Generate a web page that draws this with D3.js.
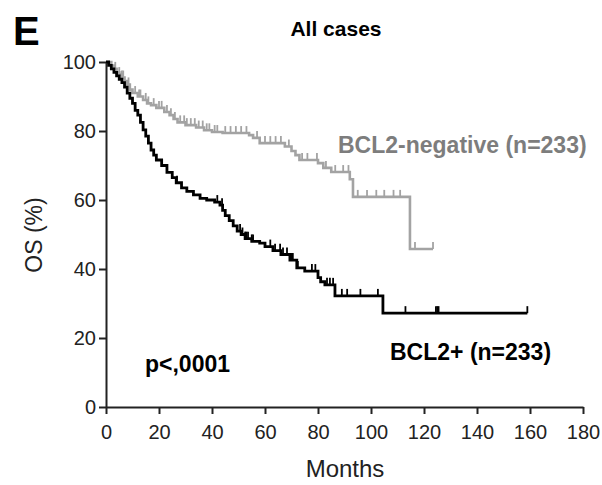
<!DOCTYPE html>
<meta charset="utf-8">
<style>
html, body { margin: 0; padding: 0; background: #fff; }
svg { font-family: "Liberation Sans", Arial, sans-serif; }
.axis path, .axis line { stroke: #222; stroke-width: 2; }
.axis text { font-size: 20px; fill: #222; }
</style>
<svg width="602" height="485"></svg>
<script src="https://cdn.jsdelivr.net/npm/d3@7"></script>
<script>
// BCL2-negative curve: month where the step starts, survival (%) after it
const negMonths = [0, 2, 3, 4, 5, 6, 7, 8, 9, 10, 12, 14, 15.5, 17, 19, 22, 24, 25.5, 27, 30, 34, 37, 40, 44, 54, 55.5, 58, 67.5, 70, 71.5, 73, 80, 82, 85, 92, 93.2, 114.7];
const negSurv = [100, 99, 98, 97, 96.5, 95.5, 94.5, 93.5, 92, 91, 90, 89, 88, 87.5, 86.7, 85.5, 84.6, 83.5, 82.5, 81.7, 81, 80.2, 79.7, 79.4, 78.8, 78, 76.5, 75.5, 74.2, 73, 71.6, 70.7, 69.3, 68.1, 66, 60.9, 45.8];
const negEnd = 123.4;
const negCensored = [3.5, 5, 6, 6.5, 8.5, 11, 12.5, 13, 15, 16, 18, 20, 21, 23, 24.5, 26, 28, 29.5, 30.5, 32, 33.5, 35, 36.5, 38, 39, 41, 42, 45, 47, 49, 51, 53, 57, 60, 62, 64, 66, 69, 74, 76, 79.6, 83, 86.5, 89.5, 91.5, 95, 98.5, 102, 105, 108.5, 111, 116.6, 123.4];

// BCL2+ curve
const posMonths = [0, 1, 2, 3, 4, 5, 6, 7, 8, 9, 10, 11, 12, 13, 14, 15, 16, 17, 18, 19, 21, 23, 25, 26.5, 28.5, 30.5, 33, 35.5, 38, 41, 43, 44, 45, 46.5, 48, 49.5, 51, 52.5, 55, 58, 60, 63, 66, 69.4, 72, 75, 80, 81, 82.6, 86.4, 104.5];
const posSurv = [100, 99, 98, 97, 96, 95, 94, 92.7, 91, 89.5, 88, 86, 84.6, 82.5, 80.3, 78.5, 76.5, 74.5, 73, 71.6, 70, 68, 66.5, 65, 63.5, 62.5, 61.5, 60.5, 60, 59.4, 58.5, 57, 55.5, 54, 52.5, 51, 50, 48.8, 48, 47.5, 46.5, 45.3, 44.2, 42.6, 40.3, 39.4, 37.5, 36.3, 35.4, 32.2, 27.2];
const posEnd = 159;
const posCensored = [26.8, 42, 43.8, 50.6, 51.5, 52.5, 53, 53.6, 55, 55.5, 62, 63.8, 65.7, 66.8, 68.3, 70, 70.5, 72.4, 77.7, 79, 83.4, 84.5, 85.7, 89, 91, 96, 102.6, 113, 124.5, 125, 125.5, 159];

const xTicks = [0, 20, 40, 60, 80, 100, 120, 140, 160, 180];
const yTicks = [0, 20, 40, 60, 80, 100];

const svg = d3.select('svg');
const x = d3.scaleLinear().domain([0, 180]).range([106, 583]);
const y = d3.scaleLinear().domain([0, 100]).range([407, 62]);

svg.append('g')
  .attr('class', 'axis')
  .attr('transform', `translate(0,${y(0)})`)
  .call(d3.axisBottom(x).tickValues(xTicks).tickSize(7).tickSizeOuter(0).tickPadding(8))
  .call(g => g.selectAll('text').attr('dy', '0.85em'));

svg.append('g')
  .attr('class', 'axis')
  .attr('transform', `translate(${x(0)},0)`)
  .call(d3.axisLeft(y).tickValues(yTicks).tickSize(7).tickSizeOuter(0).tickPadding(3));

function drawCurve(months, surv, end, censored, color, width) {
  const pts = months.map((m, i) => [m, surv[i]]);
  pts.push([end, surv[surv.length - 1]]);
  const line = d3.line()
    .x(d => x(d[0]))
    .y(d => y(d[1]))
    .curve(d3.curveStepAfter);
  svg.append('path')
    .attr('d', line(pts))
    .attr('fill', 'none')
    .attr('stroke', color)
    .attr('stroke-width', width);
  const survAt = t => {
    let s = surv[0];
    for (let i = 0; i < months.length; i++) if (months[i] <= t) s = surv[i];
    return s;
  };
  svg.append('g')
    .selectAll('line')
    .data(censored)
    .enter()
    .append('line')
    .attr('x1', d => x(d))
    .attr('x2', d => x(d))
    .attr('y1', d => y(survAt(d)))
    .attr('y2', d => y(survAt(d)) - 7)
    .attr('stroke', color)
    .attr('stroke-width', 1.8);
}

drawCurve(negMonths, negSurv, negEnd, negCensored, '#a3a3a3', 2.6);
drawCurve(posMonths, posSurv, posEnd, posCensored, '#000', 2.8);

svg.append('text')
  .attr('x', 13).attr('y', 45)
  .attr('font-size', 40).attr('font-weight', 'bold')
  .text('E');

svg.append('text')
  .attr('x', 336).attr('y', 36)
  .attr('text-anchor', 'middle')
  .attr('font-size', 21).attr('font-weight', 'bold')
  .text('All cases');

svg.append('text')
  .attr('x', 338).attr('y', 153)
  .attr('font-size', 23).attr('font-weight', 'bold')
  .attr('fill', '#7d7d7d')
  .text('BCL2-negative (n=233)');

svg.append('text')
  .attr('x', 390).attr('y', 360)
  .attr('font-size', 23).attr('font-weight', 'bold')
  .text('BCL2+ (n=233)');

svg.append('text')
  .attr('x', 145).attr('y', 372)
  .attr('font-size', 23).attr('font-weight', 'bold')
  .text('p<,0001');

svg.append('text')
  .attr('transform', 'translate(42,235) rotate(-90)')
  .attr('text-anchor', 'middle')
  .attr('font-size', 23).attr('fill', '#222')
  .text('OS (%)');

svg.append('text')
  .attr('x', 345).attr('y', 477)
  .attr('text-anchor', 'middle')
  .attr('font-size', 24).attr('fill', '#222')
  .text('Months');
</script>
